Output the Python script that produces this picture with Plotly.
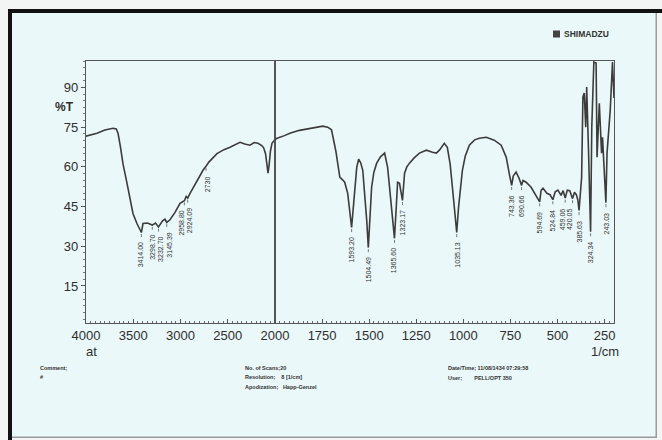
import numpy as np
import plotly.graph_objects as go

# ---------------- data ----------------
# 4000-2000 1/cm (half-scale part)
wn_high = [4000, 3950, 3884, 3800, 3714, 3680, 3661, 3635, 3608, 3570, 3540, 3503, 3460, 3430,
           3414.00, 3397, 3350, 3298.70, 3265, 3232.70, 3190, 3164, 3145.39, 3111, 3058, 3005,
           2958.80, 2940, 2924.09, 2899, 2860, 2825, 2762, 2730, 2700, 2614, 2540, 2476, 2420,
           2370, 2320, 2265, 2220, 2180, 2140, 2120, 2100, 2085, 2074, 2063, 2048, 2032, 2015, 2000]
t_high = [71.6, 72.0, 72.7, 73.9, 74.6, 74.3, 72.7, 67.5, 61.0, 54.5, 48.5, 42.4, 38.5, 36.0,
          35.2, 38.6, 38.8, 38.0, 38.8, 37.3, 39.6, 40.2, 39.0, 40.0, 42.8, 46.2,
          47.2, 48.8, 48.2, 50.0, 52.5, 54.9, 58.7, 60.2, 61.8, 65.0, 66.5, 67.4, 68.3,
          69.3, 68.6, 68.2, 69.2, 68.9, 68.0, 67.2, 65.0, 61.5, 57.6, 60.5, 66.0, 68.9, 69.8, 70.3]

# 2000-200 1/cm (full-scale part)
wn_low = [2000, 1989, 1950, 1921, 1870, 1815, 1770, 1746, 1720, 1700, 1677, 1656, 1640, 1630,
          1614, 1600, 1593.20, 1585, 1575, 1566, 1556, 1545, 1534, 1520, 1513, 1504.49, 1496,
          1487, 1475, 1460, 1440, 1418, 1402, 1390, 1381, 1365.60, 1356, 1349, 1339, 1323.17,
          1312, 1300, 1286, 1260, 1233, 1196, 1164, 1143, 1127, 1101, 1085, 1070, 1058, 1045,
          1035.13, 1025, 1015, 1005, 990, 968, 940, 915, 878, 836, 799, 772, 755, 743.36, 735,
          720, 704, 690.66, 683, 667, 640, 624, 610, 594.69, 587, 577, 556, 540, 524.84, 512,
          498, 481, 470, 459.06, 448, 435, 420.05, 410, 400, 392, 385.63, 380, 372, 365, 358,
          350, 345, 335, 324.34, 318, 307, 295, 290, 278, 266, 261, 250, 243.03, 237, 220, 208,
          203, 200]
t_low = [70.3, 70.8, 71.8, 72.7, 73.8, 74.6, 75.2, 75.4, 75.0, 74.0, 66.0, 56.1, 55.0, 54.2,
         50.0, 42.0, 37.1, 44.0, 53.0, 59.8, 62.9, 61.5, 58.7, 48.0, 39.8, 29.5, 40.0,
         52.3, 58.0, 61.4, 63.8, 65.2, 59.8, 50.0, 42.4, 33.0, 45.0, 54.2, 53.8, 47.3,
         57.6, 60.0, 61.4, 63.5, 65.2, 66.3, 65.5, 65.2, 66.3, 68.9, 67.4, 61.0, 52.3, 42.0,
         35.2, 45.0, 53.0, 58.7, 64.0, 68.2, 70.2, 70.8, 71.2, 70.1, 68.2, 63.6, 57.0, 53.0, 56.5,
         58.0, 55.7, 53.0, 54.9, 54.2, 52.3, 50.4, 49.0, 46.8, 51.1, 51.9, 50.0, 49.5, 47.6, 50.6,
         51.2, 49.2, 51.0, 48.2, 51.2, 51.0, 48.0, 50.4, 49.5, 47.5, 43.5, 50.0, 56.0, 86.4, 87.9,
         75.0, 90.2, 65.2, 35.5, 75.0, 99.6, 99.2, 63.6, 84.0, 65.2, 71.2, 55.0, 46.5, 65.2, 81.4,
         99.6, 88.0, 86.0]

peak_high_wn = [3414.00, 3298.70, 3232.70, 3145.39, 2958.80, 2924.09, 2730]
peak_high_lbl = ["3414.00", "3298.70", "3232.70", "3145.39", "2958.80", "2924.09", "2730"]
peak_low_wn = [1593.20, 1504.49, 1365.60, 1323.17, 1035.13, 743.36, 690.66, 594.69,
               524.84, 459.06, 420.05, 385.63, 324.34, 243.03]
peak_low_lbl = ["1593.20", "1504.49", "1365.60", "1323.17", "1035.13", "743.36", "690.66",
                "594.69", "524.84", "459.06", "420.05", "385.63", "324.34", "243.03"]

x_ticks_high = [4000, 3500, 3000, 2500, 2000]
x_ticks_low = [1750, 1500, 1250, 1000, 750, 500, 250]
y_ticks = [15, 30, 45, 60, 75, 90]

# label spreading (pixels) so neighbouring labels do not collide
shift_high = [0, 0, 2, 3, -3, 2, 1]
shift_low = [0, 0, -1, 0, 1, 0, 0, 0, 0, -3, -3, 0, 0, 1]

# ---------------- layout geometry ----------------
W, H = 662, 440
L, R, T, B = 86, 614, 61, 323
split = (275 - L) / (R - L)


def fx(px):
    return (px - L) / (R - L)


def fy(py):
    return (B - py) / (B - T)


BG = "#eaf8f9"
INK = "#2e2e2e"
FONT = "Liberation Sans, Arial, sans-serif"

fig = go.Figure()
fig.add_trace(go.Scatter(x=wn_high, y=t_high, mode="lines", xaxis="x", yaxis="y",
                         line=dict(color="#3c3c3c", width=1.6), hoverinfo="skip"))
fig.add_trace(go.Scatter(x=wn_low, y=t_low, mode="lines", xaxis="x2", yaxis="y2",
                         line=dict(color="#3c3c3c", width=1.6), hoverinfo="skip"))

annotations = []
shapes = []
GAP = 3.0
for wn_list, t_list, peaks, lbls, shifts, xr in [
        (wn_high, t_high, peak_high_wn, peak_high_lbl, shift_high, "x"),
        (wn_low, t_low, peak_low_wn, peak_low_lbl, shift_low, "x2")]:
    xs = np.array(wn_list)[::-1]
    ys = np.array(t_list)[::-1]
    for p, lb, sh in zip(peaks, lbls, shifts):
        tv = float(np.interp(p, xs, ys))
        annotations.append(dict(x=p, y=tv - GAP, xref=xr, yref="y", text=lb, textangle=-90,
                                showarrow=False, xanchor="center", yanchor="top", xshift=sh,
                                font=dict(family=FONT, size=7, color="#333333")))
        shapes.append(dict(type="line", xref=xr, yref="y", x0=p, x1=p, y0=tv - 0.6, y1=tv - 2.6,
                           line=dict(color="#777777", width=1, dash="dot")))

# text around the chart
annotations += [
    dict(x=fx(64), y=fy(107), xref="paper", yref="paper", text="<b>%T</b>", showarrow=False,
         xanchor="center", yanchor="middle", font=dict(family=FONT, size=12, color=INK)),
    dict(x=4000, y=fy(351), xref="x", yref="paper", text="at", showarrow=False, xshift=5,
         xanchor="center", yanchor="middle", font=dict(family=FONT, size=13, color=INK)),
    dict(x=250, y=fy(351), xref="x2", yref="paper", text="1/cm", showarrow=False,
         xanchor="center", yanchor="middle", font=dict(family=FONT, size=13, color=INK)),
    dict(x=fx(562), y=fy(34), xref="paper", yref="paper", text="<b>SHIMADZU</b>", showarrow=False,
         xanchor="left", yanchor="middle", font=dict(family=FONT, size=8.5, color="#333333")),
]
info = [(38, 368, "Comment;"), (38, 377, "#"),
        (243, 368, "No. of Scans;20"), (243, 377, "Resolution;    8 [1/cm]"),
        (243, 387, "Apodization;   Happ-Genzel"),
        (446, 368, "Date/Time; 11/08/1434 07:29:58"), (446, 378, "User;        PELL/OPT 350")]
for px, py, txt in info:
    annotations.append(dict(x=fx(px), y=fy(py), xref="paper", yref="paper", text="<b>" + txt + "</b>",
                            showarrow=False, xanchor="left", yanchor="middle",
                            font=dict(family=FONT, size=5.5, color="#333333")))

# scanned-page frame
LIGHT = "#f3f5f5"
frame = [
    (0, 8, 0, 440, LIGHT), (0, 662, 0, 9, LIGHT), (657, 662, 0, 440, LIGHT), (0, 662, 438, 440, LIGHT),
    (8, 12, 9, 440, "#111111"), (8, 662, 9, 13, "#111111"),
    (655.5, 657, 13, 438, "#9a9a9a"), (12, 657, 436.5, 438, "#9a9a9a"),
    (553, 560, 30.5, 37.5, "#444444"),
]
for x0, x1, y0, y1, c in frame:
    shapes.append(dict(type="rect", xref="paper", yref="paper", x0=fx(x0), x1=fx(x1),
                       y0=fy(y1), y1=fy(y0), fillcolor=c, line=dict(width=0), layer="below"))

axis_common = dict(showgrid=False, zeroline=False, showline=True, linecolor="#555555",
                   linewidth=1.2, mirror=True, ticks="inside", ticklen=4, tickcolor="#555555",
                   tickfont=dict(family=FONT, size=13, color=INK))

fig.update_layout(
    width=W, height=H,
    margin=dict(l=L, r=W - R, t=T, b=H - B),
    paper_bgcolor=BG, plot_bgcolor=BG,
    showlegend=False,
    xaxis=dict(domain=[0, split], range=[4000, 2000], anchor="y", tickvals=x_ticks_high,
               minor=dict(dtick=50, tick0=0, ticks="inside", ticklen=2, tickcolor="#666666"),
               **axis_common),
    xaxis2=dict(domain=[split, 1], range=[2000, 200], anchor="y2", tickvals=x_ticks_low,
                minor=dict(dtick=25, tick0=0, ticks="inside", ticklen=2, tickcolor="#666666"),
                **axis_common),
    yaxis=dict(domain=[0, 1], range=[1, 100], anchor="x", tickvals=y_ticks,
               showgrid=False, zeroline=False, showline=True, linecolor="#555555", linewidth=1.2,
               mirror=True, ticks="outside", ticklen=4, tickcolor="#555555",
               minor=dict(dtick=2.5, tick0=0, ticks="outside", ticklen=2, tickcolor="#777777"),
               tickfont=dict(family=FONT, size=13, color=INK)),
    yaxis2=dict(domain=[0, 1], range=[1, 100], anchor="x2", matches="y", showgrid=False,
                zeroline=False, showline=True, linecolor="#555555", linewidth=1.2, mirror=True,
                ticks="", showticklabels=False),
    annotations=annotations,
    shapes=shapes,
)

fig.write_html("out.html")
